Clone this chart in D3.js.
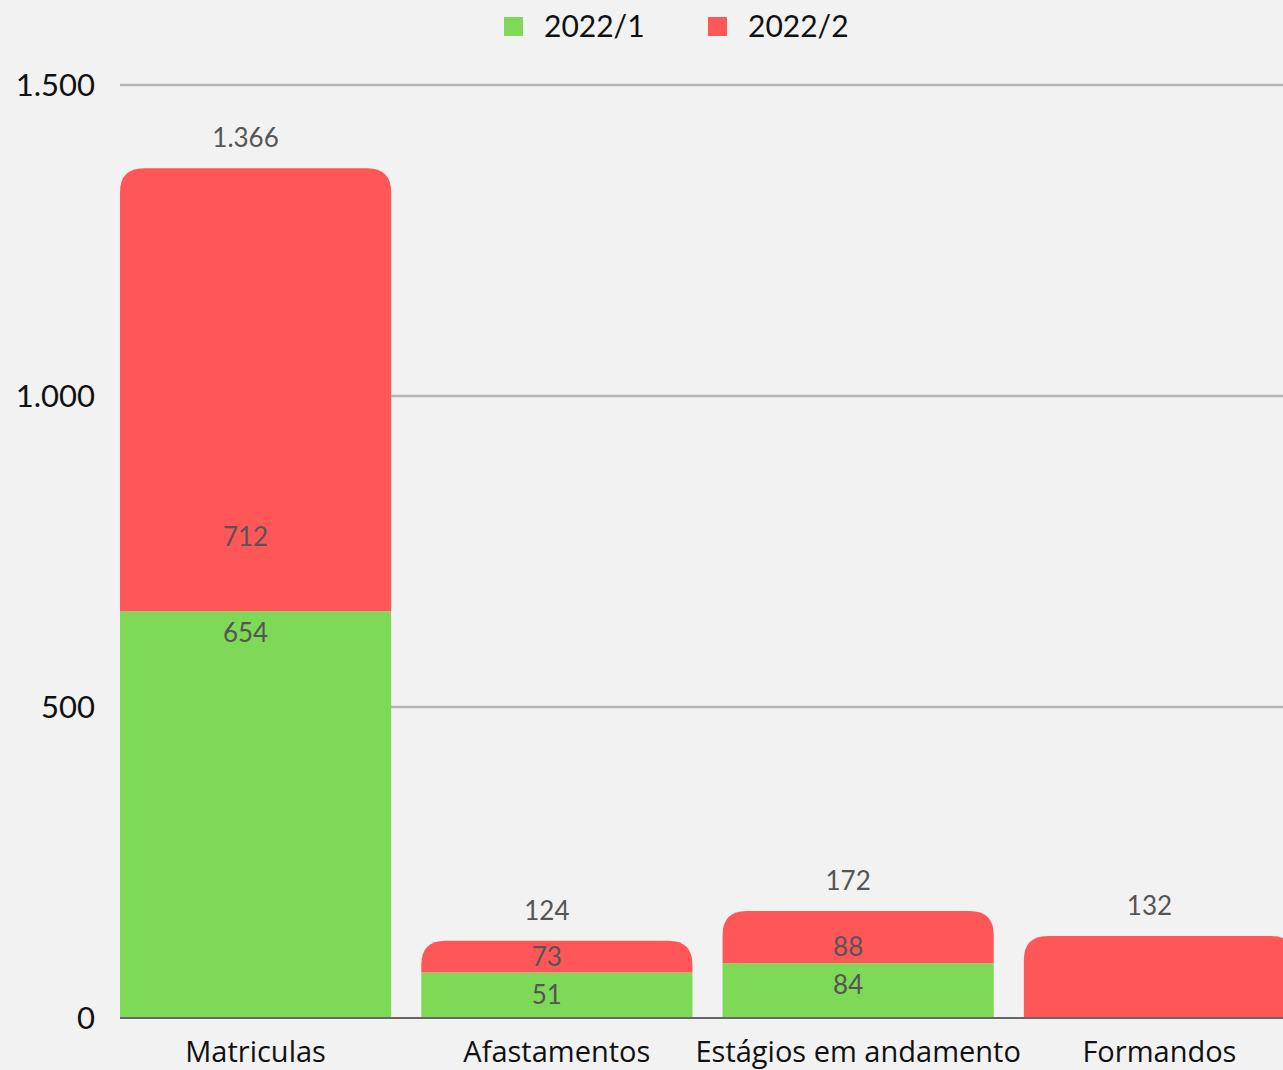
<!DOCTYPE html>
<html lang="pt">
<head>
<meta charset="UTF-8" />
<script src="https://d3js.org/d3.v7.min.js"></script>
<style>
  body { margin: 0; overflow: hidden; background: #f2f2f2; }
  svg { background: #f2f2f2; display: block; }
  .tick-label, .legend text { font-family: "Lato", sans-serif; fill: #111; }
  .cat-label { font-family: "Open Sans", sans-serif; fill: #111; }
  .val-label { font-family: "Lato", sans-serif; fill: #555; }
</style>
</head>
<body>
<script>
  // chart data
  const categories = ["Matriculas", "Afastamentos", "Estágios em andamento", "Formandos"];
  const seriesNames = ["2022/1", "2022/2"];
  const values2022_1 = [654, 73, 88, 0];
  const values2022_2 = [712, 51, 84, 132];
  // segment labels as printed on the chart
  const labels2022_1 = ["654", "51", "84", ""];
  const labels2022_2 = ["712", "73", "88", ""];
  const yTicks = [0, 500, 1000, 1500];

  const width = 1283, height = 1070;
  const colors = ["#7ed957", "#ff5757"];

  const br = d3.formatLocale({ decimal: ",", thousands: ".", grouping: [3], currency: ["R$", ""] });
  const fmt = br.format(",d");

  const svg = d3.select("body").append("svg")
    .attr("width", width)
    .attr("height", height);

  const x = d3.scaleBand()
    .domain(categories)
    .range([120, 1295])
    .paddingInner(0.1)
    .paddingOuter(0);

  const y = d3.scaleLinear()
    .domain([0, 1500])
    .range([1018, 85]);

  // gridlines
  svg.append("g")
    .selectAll("line")
    .data(yTicks.filter(d => d > 0))
    .join("line")
    .attr("x1", 120).attr("x2", width)
    .attr("y1", d => y(d)).attr("y2", d => y(d))
    .attr("stroke", "#b5b5b5")
    .attr("stroke-width", 2.5);

  // y tick labels
  svg.append("g")
    .selectAll("text")
    .data(yTicks)
    .join("text")
    .attr("class", "tick-label")
    .attr("x", 95)
    .attr("y", d => y(d))
    .attr("dy", "0.35em")
    .attr("text-anchor", "end")
    .style("font-size", "31px")
    .text(d => fmt(d));

  const rows = categories.map((c, i) => ({
    cat: c, s1: values2022_1[i], s2: values2022_2[i],
    l1: labels2022_1[i], l2: labels2022_2[i]
  }));

  const stack = d3.stack().keys(["s1", "s2"]);
  const stacked = stack(rows);

  // rect with rounded top corners
  const topRounded = (x0, y0, w, h, r) => {
    r = Math.min(r, h, w / 2);
    return `M${x0},${y0 + h}V${y0 + r}Q${x0},${y0} ${x0 + r},${y0}H${x0 + w - r}Q${x0 + w},${y0} ${x0 + w},${y0 + r}V${y0 + h}Z`;
  };

  stacked.forEach((layer, li) => {
    svg.append("g")
      .selectAll("path")
      .data(layer.filter(d => d[1] > d[0]))
      .join("path")
      .attr("fill", colors[li])
      .attr("d", d => {
        const x0 = x(d.data.cat), w = x.bandwidth();
        const yTop = y(d[1]), h = y(d[0]) - y(d[1]);
        return li === stacked.length - 1
          ? topRounded(x0, yTop, w, h, 24)
          : `M${x0},${yTop}h${w}v${h}h${-w}Z`;
      });
  });

  // baseline
  svg.append("line")
    .attr("x1", 120).attr("x2", width)
    .attr("y1", y(0)).attr("y2", y(0))
    .attr("stroke", "#666")
    .attr("stroke-width", 2);

  const labels = svg.append("g").attr("class", "val-label").style("font-size", "26px");

  rows.forEach(r => {
    // value labels sit a little left of the bar centre
    const cx = x(r.cat) + x.bandwidth() / 2 - 10;
    const total = r.s1 + r.s2;
    labels.append("text")
      .attr("x", cx).attr("y", y(total) - 30)
      .attr("dy", "0.35em").attr("text-anchor", "middle")
      .text(fmt(total));
    if (r.s1 > 0) {
      const gTop = y(r.s1);
      const redH = gTop - y(total);
      labels.append("text")
        .attr("x", cx).attr("y", gTop + 22)
        .attr("dy", "0.35em").attr("text-anchor", "middle")
        .text(r.l1);
      labels.append("text")
        .attr("x", cx).attr("y", gTop - Math.max(16, redH * 0.167))
        .attr("dy", "0.35em").attr("text-anchor", "middle")
        .text(r.l2);
    }
  });

  // category labels
  svg.append("g")
    .selectAll("text")
    .data(categories)
    .join("text")
    .attr("class", "cat-label")
    .attr("x", d => x(d) + x.bandwidth() / 2)
    .attr("y", 1052)
    .attr("dy", "0.35em")
    .attr("text-anchor", "middle")
    .style("font-size", "29px")
    .text(d => d);

  // legend
  const legend = svg.append("g").attr("class", "legend");
  const legendX = [504, 708];
  seriesNames.forEach((n, i) => {
    legend.append("rect")
      .attr("x", legendX[i]).attr("y", 17)
      .attr("width", 19).attr("height", 19)
      .attr("fill", colors[i]);
    legend.append("text")
      .attr("x", legendX[i] + 40).attr("y", 26)
      .attr("dy", "0.35em")
      .style("font-size", "30px")
      .text(n);
  });
</script>
</body>
</html>
